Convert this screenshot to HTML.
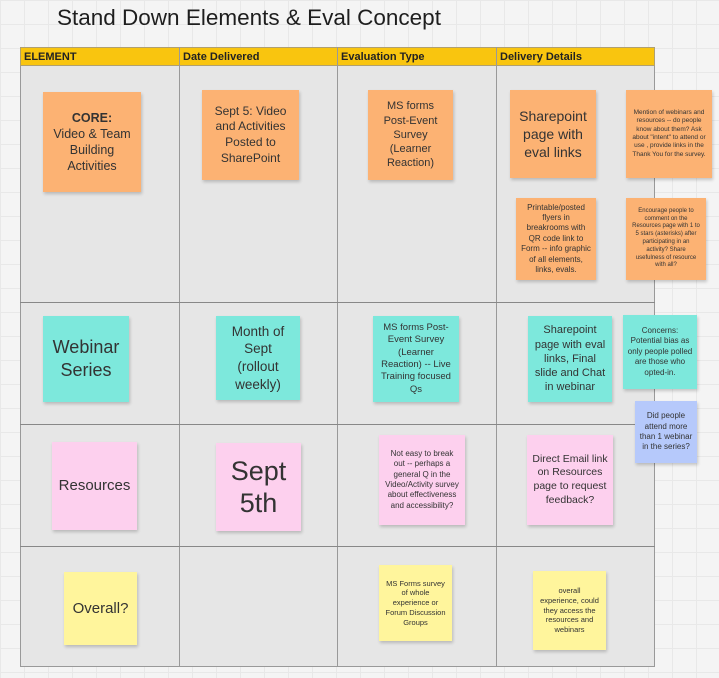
<!DOCTYPE html>
<html><head><meta charset="utf-8"><style>
body{margin:0;width:719px;height:678px;overflow:hidden;background:#f4f4f4;
background-image:linear-gradient(#e8e8e8 1px,transparent 1px),linear-gradient(90deg,#e8e8e8 1px,transparent 1px);background-size:24px 24px;
font-family:"Liberation Sans","DejaVu Sans",sans-serif;position:relative}
.t{position:absolute;left:57px;top:5px;font-size:22.5px;color:#1e1e1e;font-family:"Liberation Sans",sans-serif}
.tbl{position:absolute;left:20px;top:47px;width:635px;height:620px;background:#e6e6e6;border:1px solid #999;box-sizing:border-box}
.hd{position:absolute;left:20px;top:47px;width:635px;height:19px;background:#f9c50f;border:1px solid #b0a070;box-sizing:border-box}
.hl{position:absolute;top:51px;font-size:11px;font-weight:bold;color:#222}
.v{position:absolute;top:47px;width:1px;height:620px;background:#999}
.h{position:absolute;left:20px;width:635px;height:1px;background:#888}
.s{position:absolute;display:flex;align-items:center;justify-content:center;text-align:center;color:#333;box-shadow:1px 2px 3px rgba(0,0,0,.2);font-family:"Liberation Sans",sans-serif;line-height:1.3;box-sizing:border-box;padding:4px}
.o{background:#fcb273}.c{background:#7de8dc}.p{background:#fdd0ee}.y{background:#fff59c}.b{background:#b6c9fb}
</style></head><body>
<div class="t">Stand Down Elements &amp; Eval Concept</div>
<div class="tbl"></div>
<div class="hd"></div>
<div class="hl" style="left:24px">ELEMENT</div>
<div class="hl" style="left:183px">Date Delivered</div>
<div class="hl" style="left:341px">Evaluation Type</div>
<div class="hl" style="left:500px">Delivery Details</div>
<div class="v" style="left:179px"></div><div class="v" style="left:337px"></div><div class="v" style="left:496px"></div>
<div class="h" style="top:302px"></div><div class="h" style="top:424px"></div><div class="h" style="top:546px"></div>

<div class="s o" style="left:43px;top:92px;width:98px;height:100px;font-size:12.5px"><div><b>CORE:</b><br>Video &amp; Team Building Activities</div></div>
<div class="s o" style="left:202px;top:90px;width:97px;height:90px;font-size:12px;padding:6px">Sept 5: Video and Activities Posted to SharePoint</div>
<div class="s o" style="left:368px;top:90px;width:85px;height:90px;font-size:11px;padding:8px">MS forms Post-Event Survey (Learner Reaction)</div>
<div class="s o" style="left:510px;top:90px;width:86px;height:88px;font-size:14px;padding:6px">Sharepoint page with eval links</div>
<div class="s o" style="left:626px;top:90px;width:86px;height:88px;font-size:6.5px">Mention of webinars and resources -- do people know about them? Ask about "intent" to attend or use , provide links in the Thank You for the survey.</div>
<div class="s o" style="left:516px;top:198px;width:80px;height:82px;font-size:8px">Printable/posted flyers in breakrooms with QR code link to Form -- info graphic of all elements, links, evals.</div>
<div class="s o" style="left:626px;top:198px;width:80px;height:82px;font-size:6px;padding:6px">Encourage people to comment on the Resources page with 1 to 5 stars (asterisks) after participating in an activity? Share usefulness of resource with all?</div>

<div class="s c" style="left:43px;top:316px;width:86px;height:86px;font-size:18px">Webinar Series</div>
<div class="s c" style="left:216px;top:316px;width:84px;height:84px;font-size:13.5px;padding:4px 12px">Month of Sept (rollout weekly)</div>
<div class="s c" style="left:373px;top:316px;width:86px;height:86px;font-size:9.5px">MS forms Post-Event Survey (Learner Reaction) -- Live Training focused Qs</div>
<div class="s c" style="left:528px;top:316px;width:84px;height:86px;font-size:11px">Sharepoint page with eval links, Final slide and Chat in webinar</div>
<div class="s c" style="left:623px;top:315px;width:74px;height:74px;font-size:8px">Concerns: Potential bias as only people polled are those who opted-in.</div>
<div class="s b" style="left:635px;top:401px;width:62px;height:62px;font-size:8px">Did people attend more than 1 webinar in the series?</div>

<div class="s p" style="left:52px;top:442px;width:85px;height:88px;font-size:15px">Resources</div>
<div class="s p" style="left:216px;top:443px;width:85px;height:88px;font-size:27px;line-height:1.2">Sept 5th</div>
<div class="s p" style="left:379px;top:435px;width:86px;height:90px;font-size:8px;padding:6px">Not easy to break out -- perhaps a general Q in the Video/Activity survey about effectiveness and accessibility?</div>
<div class="s p" style="left:527px;top:435px;width:86px;height:90px;font-size:10.5px;padding:3px">Direct Email link on Resources page to request feedback?</div>

<div class="s y" style="left:64px;top:572px;width:73px;height:73px;font-size:15px">Overall?</div>
<div class="s y" style="left:379px;top:565px;width:73px;height:76px;font-size:7.5px">MS Forms survey of whole experience or Forum Discussion Groups</div>
<div class="s y" style="left:533px;top:571px;width:73px;height:79px;font-size:7.5px;padding:6px">overall experience, could they access the resources and webinars</div>
</body></html>
